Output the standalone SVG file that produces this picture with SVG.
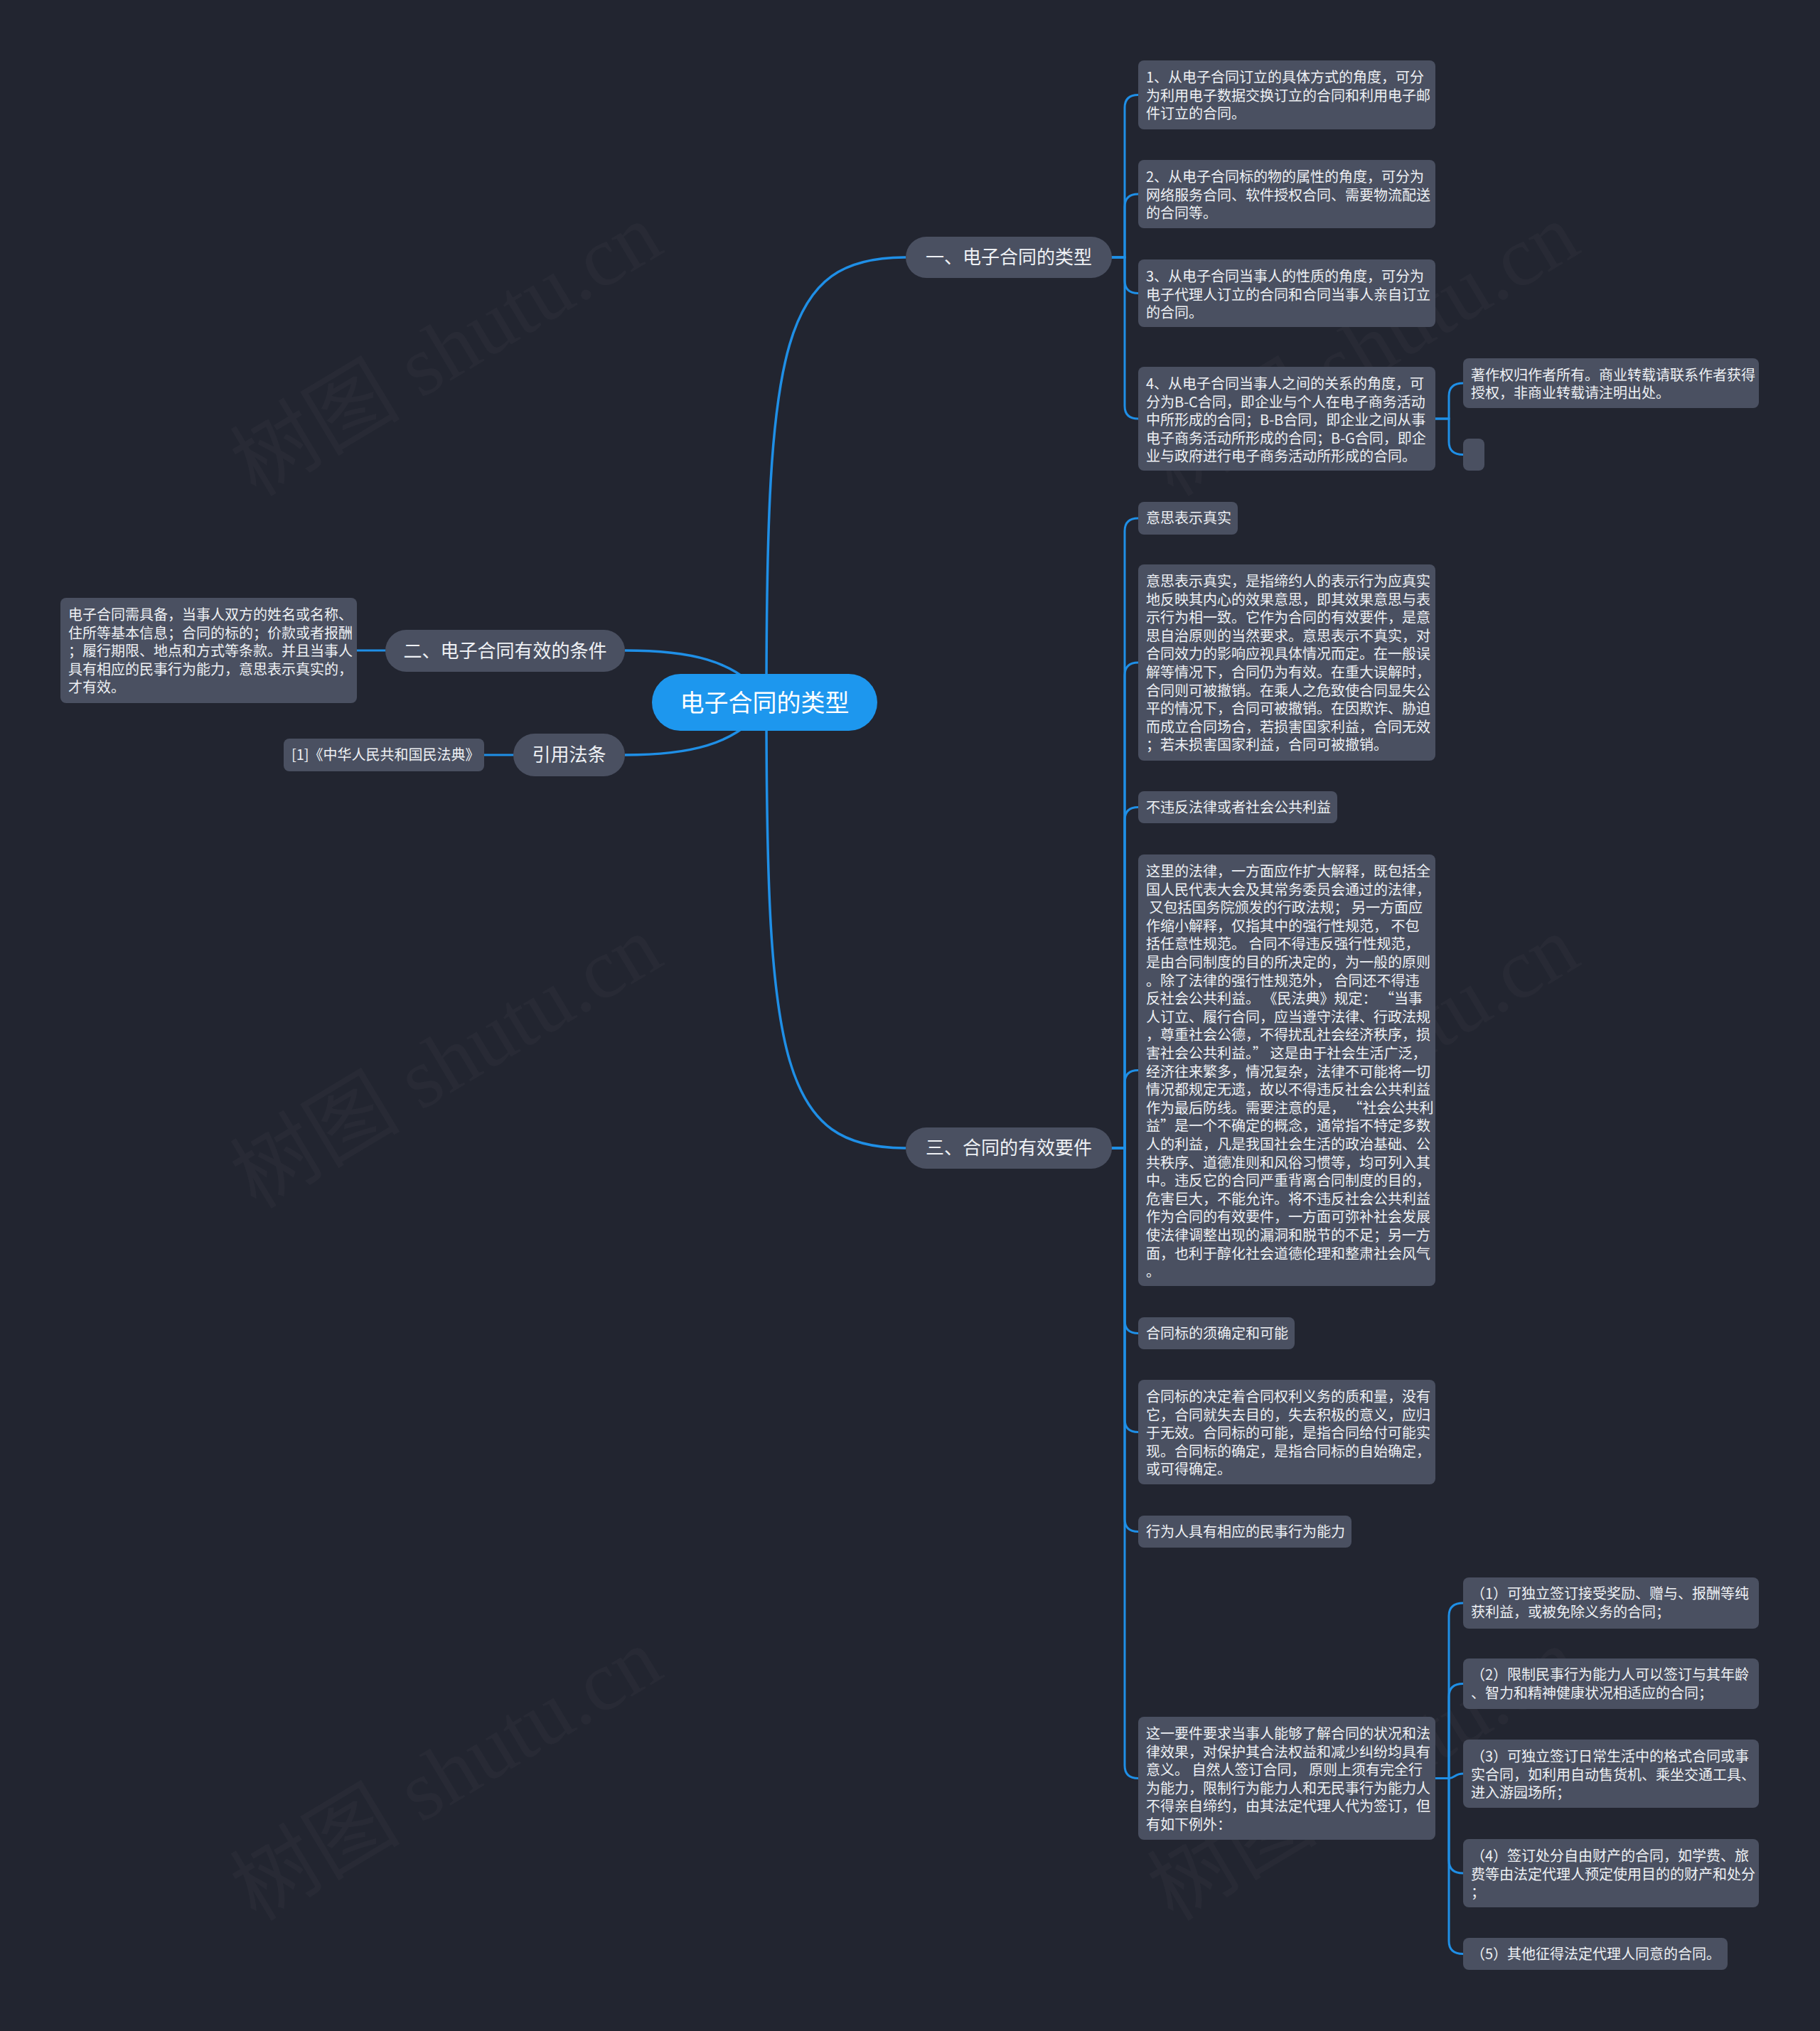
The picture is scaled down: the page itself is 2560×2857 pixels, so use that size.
<svg xmlns="http://www.w3.org/2000/svg" width="2560" height="2857" viewBox="0 0 2560 2857">
<style>
.bg{fill:#222530}
.wm{font-family:"Liberation Serif","Noto Sans CJK SC",serif;font-size:120px;fill:#ffffff;fill-opacity:0.028}
.line{fill:none;stroke:#1f8fe6;stroke-width:3;stroke-linecap:round}
.main{fill:none;stroke:#1f8fe6;stroke-width:3.5}
.box{fill:#4a5061}
.root{fill:#1d97ee}
.t{font-family:"Noto Sans CJK SC","Noto Sans",sans-serif;font-size:20px;fill:#eef0f4;white-space:pre}
.tb{font-family:"Noto Sans CJK SC","Noto Sans",sans-serif;font-size:26px;fill:#eef0f4;text-anchor:middle}
.tr{font-family:"Noto Sans CJK SC","Noto Sans",sans-serif;font-size:34px;fill:#ffffff;text-anchor:middle}
</style>
<rect class="bg" x="0" y="0" width="2560" height="2857"/>
<g id="watermarks">
<text class="wm" transform="translate(360,700) rotate(-31)">树图 shutu.cn</text>
<text class="wm" transform="translate(1650,700) rotate(-31)">树图 shutu.cn</text>
<text class="wm" transform="translate(360,1702) rotate(-31)">树图 shutu.cn</text>
<text class="wm" transform="translate(1650,1702) rotate(-31)">树图 shutu.cn</text>
<text class="wm" transform="translate(360,2704) rotate(-31)">树图 shutu.cn</text>
<text class="wm" transform="translate(1650,2704) rotate(-31)">树图 shutu.cn</text>
</g>
<g id="connectors">
<path class="main" d="M1078,988 C1078,480 1100,362 1274,362"/>
<path class="main" d="M1078,988 C1078,1496 1100,1615 1274,1615"/>
<path class="main" d="M1078,988 C1040,925 960,915 879,915"/>
<path class="main" d="M1078,988 C1040,1051 960,1062 879,1062"/>
<path class="line" d="M542,915 H502"/>
<path class="line" d="M722,1062 H681"/>
<path class="line" d="M1564,362 H1582 V151.5 Q1582,133.5 1601,133.5"/>
<path class="line" d="M1564,362 H1582 V291 Q1582,273 1601,273"/>
<path class="line" d="M1564,362 H1582 V394.5 Q1582,412.5 1601,412.5"/>
<path class="line" d="M1564,362 H1582 V571 Q1582,589 1601,589"/>
<path class="line" d="M2019,589 H2038 V557 Q2038,539 2058,539"/>
<path class="line" d="M2019,589 H2038 V621.5 Q2038,639.5 2058,639.5"/>
<path class="line" d="M1564,1615 H1582 V747 Q1582,729 1601,729"/>
<path class="line" d="M1564,1615 H1582 V950 Q1582,932 1601,932"/>
<path class="line" d="M1564,1615 H1582 V1153.5 Q1582,1135.5 1601,1135.5"/>
<path class="line" d="M1564,1615 H1582 V1523.5 Q1582,1505.5 1601,1505.5"/>
<path class="line" d="M1564,1615 H1582 V1857.5 Q1582,1875.5 1601,1875.5"/>
<path class="line" d="M1564,1615 H1582 V1996.5 Q1582,2014.5 1601,2014.5"/>
<path class="line" d="M1564,1615 H1582 V2136.5 Q1582,2154.5 1601,2154.5"/>
<path class="line" d="M1564,1615 H1582 V2483.5 Q1582,2501.5 1601,2501.5"/>
<path class="line" d="M2019,2501.5 H2038 V2273 Q2038,2255 2058,2255"/>
<path class="line" d="M2019,2501.5 H2038 V2386.5 Q2038,2368.5 2058,2368.5"/>
<path class="line" d="M2019,2501.5 H2038 C2046,2501.5 2046,2495 2058,2495"/>
<path class="line" d="M2019,2501.5 H2038 V2617 Q2038,2635 2058,2635"/>
<path class="line" d="M2019,2501.5 H2038 V2730.5 Q2038,2748.5 2058,2748.5"/>
</g>
<g id="root">
<rect class="root" x="917" y="948" width="317" height="80" rx="40"/>
<text class="tr" x="1075.5" y="1001">电子合同的类型</text>
</g>
<g id="branch1">
<rect class="box" x="1274" y="333" width="290" height="58" rx="29"/>
<text class="tb" x="1419" y="371">一、电子合同的类型</text>
</g>
<g id="branch2">
<rect class="box" x="542" y="886" width="337" height="59" rx="29.5"/>
<text class="tb" x="710.5" y="925">二、电子合同有效的条件</text>
</g>
<g id="branch3">
<rect class="box" x="1274" y="1586" width="290" height="58" rx="29"/>
<text class="tb" x="1419" y="1624">三、合同的有效要件</text>
</g>
<g id="branch4">
<rect class="box" x="722" y="1032" width="157" height="60" rx="30"/>
<text class="tb" x="800.5" y="1071">引用法条</text>
</g>
<g id="b2-text">
<rect class="box" x="85" y="841" width="417" height="148" rx="8"/>
<text class="t" x="96" y="872">电子合同需具备，当事人双方的姓名或名称、</text>
<text class="t" x="96" y="897.6">住所等基本信息；合同的标的；价款或者报酬</text>
<text class="t" x="96" y="923.2">；履行期限、地点和方式等条款。并且当事人</text>
<text class="t" x="96" y="948.8">具有相应的民事行为能力，意思表示真实的，</text>
<text class="t" x="96" y="974.4">才有效。</text>
</g>
<g id="b4-cite">
<rect class="box" x="399" y="1039" width="282" height="46" rx="8"/>
<text class="t" x="410" y="1069">[1]《中华人民共和国民法典》</text>
</g>
<g id="b1-c1">
<rect class="box" x="1601" y="85" width="418" height="97" rx="8"/>
<text class="t" x="1612" y="116">1、从电子合同订立的具体方式的角度，可分</text>
<text class="t" x="1612" y="141.6">为利用电子数据交换订立的合同和利用电子邮</text>
<text class="t" x="1612" y="167.2">件订立的合同。</text>
</g>
<g id="b1-c2">
<rect class="box" x="1601" y="225" width="418" height="96" rx="8"/>
<text class="t" x="1612" y="256">2、从电子合同标的物的属性的角度，可分为</text>
<text class="t" x="1612" y="281.6">网络服务合同、软件授权合同、需要物流配送</text>
<text class="t" x="1612" y="307.2">的合同等。</text>
</g>
<g id="b1-c3">
<rect class="box" x="1601" y="365" width="418" height="95" rx="8"/>
<text class="t" x="1612" y="396">3、从电子合同当事人的性质的角度，可分为</text>
<text class="t" x="1612" y="421.6">电子代理人订立的合同和合同当事人亲自订立</text>
<text class="t" x="1612" y="447.2">的合同。</text>
</g>
<g id="b1-c4">
<rect class="box" x="1601" y="516" width="418" height="146" rx="8"/>
<text class="t" x="1612" y="547">4、从电子合同当事人之间的关系的角度，可</text>
<text class="t" x="1612" y="572.6">分为B-C合同，即企业与个人在电子商务活动</text>
<text class="t" x="1612" y="598.2">中所形成的合同；B-B合同，即企业之间从事</text>
<text class="t" x="1612" y="623.8">电子商务活动所形成的合同；B-G合同，即企</text>
<text class="t" x="1612" y="649.4">业与政府进行电子商务活动所形成的合同。</text>
</g>
<g id="b1-c4-copyright">
<rect class="box" x="2058" y="504" width="416" height="70" rx="8"/>
<text class="t" x="2069" y="534.6">著作权归作者所有。商业转载请联系作者获得</text>
<text class="t" x="2069" y="560.2">授权，非商业转载请注明出处。</text>
</g>
<g id="b1-c4-empty">
<rect class="box" x="2058" y="617" width="30" height="45" rx="8"/>
</g>
<g id="b3-c1">
<rect class="box" x="1601" y="706" width="140" height="46" rx="8"/>
<text class="t" x="1612" y="736">意思表示真实</text>
</g>
<g id="b3-c2">
<rect class="box" x="1601" y="794" width="418" height="276" rx="8"/>
<text class="t" x="1612" y="825">意思表示真实，是指缔约人的表示行为应真实</text>
<text class="t" x="1612" y="850.6">地反映其内心的效果意思，即其效果意思与表</text>
<text class="t" x="1612" y="876.2">示行为相一致。它作为合同的有效要件，是意</text>
<text class="t" x="1612" y="901.8">思自治原则的当然要求。意思表示不真实，对</text>
<text class="t" x="1612" y="927.4">合同效力的影响应视具体情况而定。在一般误</text>
<text class="t" x="1612" y="953">解等情况下，合同仍为有效。在重大误解时，</text>
<text class="t" x="1612" y="978.6">合同则可被撤销。在乘人之危致使合同显失公</text>
<text class="t" x="1612" y="1004.2">平的情况下，合同可被撤销。在因欺诈、胁迫</text>
<text class="t" x="1612" y="1029.8">而成立合同场合，若损害国家利益，合同无效</text>
<text class="t" x="1612" y="1055.4">；若未损害国家利益，合同可被撤销。</text>
</g>
<g id="b3-c3">
<rect class="box" x="1601" y="1113" width="280" height="45" rx="8"/>
<text class="t" x="1612" y="1143">不违反法律或者社会公共利益</text>
</g>
<g id="b3-c4">
<rect class="box" x="1601" y="1202" width="418" height="607" rx="8"/>
<text class="t" x="1612" y="1233">这里的法律，一方面应作扩大解释，既包括全</text>
<text class="t" x="1612" y="1258.6">国人民代表大会及其常务委员会通过的法律，</text>
<text class="t" x="1612" y="1284.2"> 又包括国务院颁发的行政法规； 另一方面应</text>
<text class="t" x="1612" y="1309.8">作缩小解释，仅指其中的强行性规范， 不包</text>
<text class="t" x="1612" y="1335.4">括任意性规范。 合同不得违反强行性规范，</text>
<text class="t" x="1612" y="1361">是由合同制度的目的所决定的，为一般的原则</text>
<text class="t" x="1612" y="1386.6">。除了法律的强行性规范外， 合同还不得违</text>
<text class="t" x="1612" y="1412.2">反社会公共利益。 《民法典》规定： “当事</text>
<text class="t" x="1612" y="1437.8">人订立、履行合同，应当遵守法律、行政法规</text>
<text class="t" x="1612" y="1463.4">，尊重社会公德，不得扰乱社会经济秩序，损</text>
<text class="t" x="1612" y="1489">害社会公共利益。” 这是由于社会生活广泛，</text>
<text class="t" x="1612" y="1514.6">经济往来繁多，情况复杂，法律不可能将一切</text>
<text class="t" x="1612" y="1540.2">情况都规定无遗，故以不得违反社会公共利益</text>
<text class="t" x="1612" y="1565.8">作为最后防线。需要注意的是， “社会公共利</text>
<text class="t" x="1612" y="1591.4">益”是一个不确定的概念，通常指不特定多数</text>
<text class="t" x="1612" y="1617">人的利益，凡是我国社会生活的政治基础、公</text>
<text class="t" x="1612" y="1642.6">共秩序、道德准则和风俗习惯等，均可列入其</text>
<text class="t" x="1612" y="1668.2">中。违反它的合同严重背离合同制度的目的，</text>
<text class="t" x="1612" y="1693.8">危害巨大，不能允许。将不违反社会公共利益</text>
<text class="t" x="1612" y="1719.4">作为合同的有效要件，一方面可弥补社会发展</text>
<text class="t" x="1612" y="1745">使法律调整出现的漏洞和脱节的不足；另一方</text>
<text class="t" x="1612" y="1770.6">面，也利于醇化社会道德伦理和整肃社会风气</text>
<text class="t" x="1612" y="1796.2">。</text>
</g>
<g id="b3-c5">
<rect class="box" x="1601" y="1853" width="220" height="45" rx="8"/>
<text class="t" x="1612" y="1883">合同标的须确定和可能</text>
</g>
<g id="b3-c6">
<rect class="box" x="1601" y="1941" width="418" height="147" rx="8"/>
<text class="t" x="1612" y="1972">合同标的决定着合同权利义务的质和量，没有</text>
<text class="t" x="1612" y="1997.6">它，合同就失去目的，失去积极的意义，应归</text>
<text class="t" x="1612" y="2023.2">于无效。合同标的可能，是指合同给付可能实</text>
<text class="t" x="1612" y="2048.8">现。合同标的确定，是指合同标的自始确定，</text>
<text class="t" x="1612" y="2074.4">或可得确定。</text>
</g>
<g id="b3-c7">
<rect class="box" x="1601" y="2132" width="300" height="45" rx="8"/>
<text class="t" x="1612" y="2162">行为人具有相应的民事行为能力</text>
</g>
<g id="b3-c8">
<rect class="box" x="1601" y="2415" width="418" height="173" rx="8"/>
<text class="t" x="1612" y="2446">这一要件要求当事人能够了解合同的状况和法</text>
<text class="t" x="1612" y="2471.6">律效果，对保护其合法权益和减少纠纷均具有</text>
<text class="t" x="1612" y="2497.2">意义。 自然人签订合同， 原则上须有完全行</text>
<text class="t" x="1612" y="2522.8">为能力，限制行为能力人和无民事行为能力人</text>
<text class="t" x="1612" y="2548.4">不得亲自缔约，由其法定代理人代为签订，但</text>
<text class="t" x="1612" y="2574">有如下例外：</text>
</g>
<g id="b3-c8-e1">
<rect class="box" x="2058" y="2219" width="416" height="72" rx="8"/>
<text class="t" x="2069" y="2249">（1）可独立签订接受奖励、赠与、报酬等纯</text>
<text class="t" x="2069" y="2274.6">获利益，或被免除义务的合同；</text>
</g>
<g id="b3-c8-e2">
<rect class="box" x="2058" y="2333" width="416" height="71" rx="8"/>
<text class="t" x="2069" y="2363">（2）限制民事行为能力人可以签订与其年龄</text>
<text class="t" x="2069" y="2388.6">、智力和精神健康状况相适应的合同；</text>
</g>
<g id="b3-c8-e3">
<rect class="box" x="2058" y="2447" width="416" height="96" rx="8"/>
<text class="t" x="2069" y="2478">（3）可独立签订日常生活中的格式合同或事</text>
<text class="t" x="2069" y="2503.6">实合同，如利用自动售货机、乘坐交通工具、</text>
<text class="t" x="2069" y="2529.2">进入游园场所；</text>
</g>
<g id="b3-c8-e4">
<rect class="box" x="2058" y="2587" width="416" height="96" rx="8"/>
<text class="t" x="2069" y="2618">（4）签订处分自由财产的合同，如学费、旅</text>
<text class="t" x="2069" y="2643.6">费等由法定代理人预定使用目的的财产和处分</text>
<text class="t" x="2069" y="2669.2">；</text>
</g>
<g id="b3-c8-e5">
<rect class="box" x="2058" y="2726" width="372" height="45" rx="8"/>
<text class="t" x="2069" y="2756">（5）其他征得法定代理人同意的合同。</text>
</g>
</svg>
